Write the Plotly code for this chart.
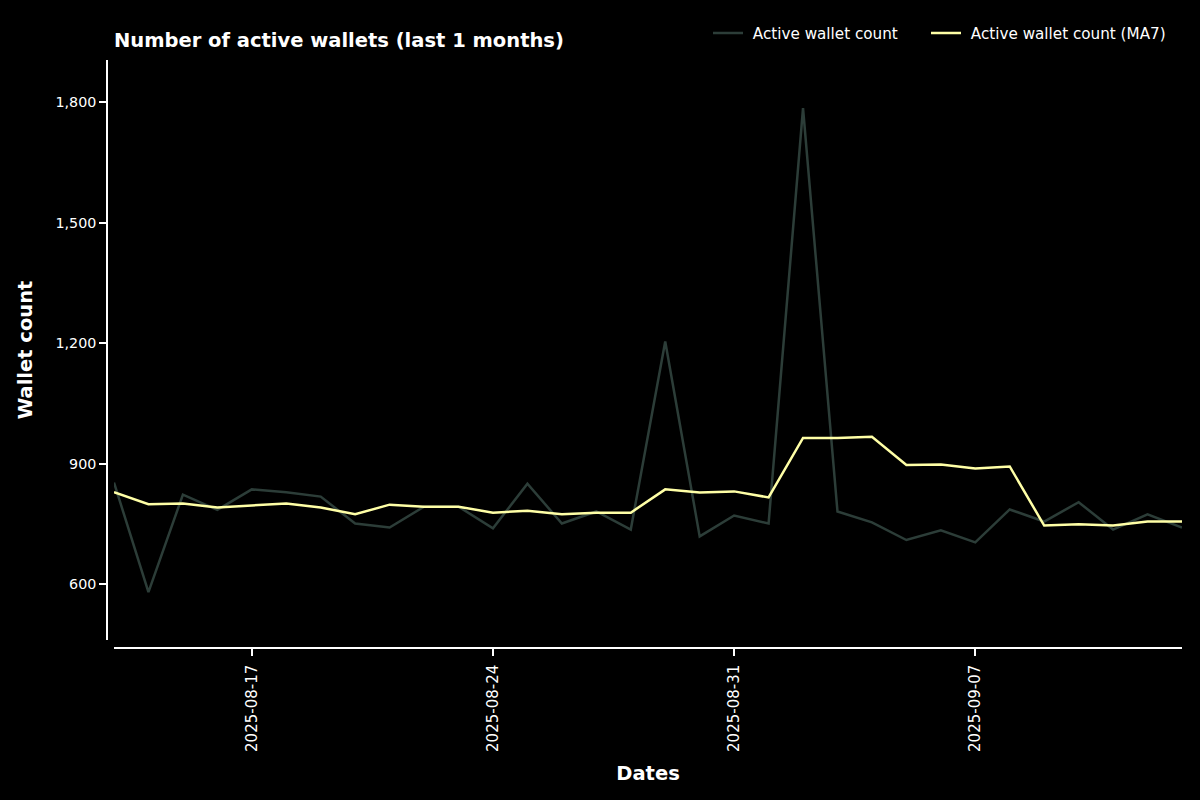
import plotly.graph_objects as go
import pandas as pd

dates = pd.date_range("2025-08-13", "2025-09-13", freq="D")
active_wallets = [853, 580, 823, 785, 836, 829, 818, 751, 741, 793, 793, 739,
                  850, 751, 781, 736, 1204, 719, 771, 751, 1785, 781, 754, 710,
                  734, 704, 786, 756, 804, 736, 774, 741]
active_wallets_ma7 = [829, 799, 801, 791, 796, 801, 791, 774, 798, 793, 793, 778,
                      783, 774, 778, 778, 836, 828, 831, 816, 964, 964, 967, 897,
                      898, 888, 893, 746, 749, 746, 756, 756]
x_ticks = ["2025-08-17", "2025-08-24", "2025-08-31", "2025-09-07"]

FONT = "DejaVu Sans"
fig = go.Figure()
fig.add_trace(go.Scatter(x=dates, y=active_wallets, mode="lines",
                         name="\u00a0Active wallet count", legendwidth=173,
                         line=dict(color="#2c3d38", width=2.5)))
fig.add_trace(go.Scatter(x=dates, y=active_wallets_ma7, mode="lines",
                         name="\u00a0Active wallet count (MA7)",
                         line=dict(color="#ffffa6", width=2.5)))

W, H = 1200, 800
ml, mr, mt, mb = 107, 18, 60, 152
pw = W - ml - mr
ph = H - mt - mb

fig.update_layout(
    width=W, height=H,
    paper_bgcolor="black", plot_bgcolor="black",
    font=dict(family=FONT, color="white", size=14),
    margin=dict(l=ml, r=mr, t=mt, b=mb),
    title=dict(text="<b>Number of active wallets (last 1 months)</b>",
               x=7 / pw, xref="paper", xanchor="left",
               y=1 - 40 / H, yref="container", yanchor="middle",
               font=dict(size=19.5, family=FONT, color="white")),
    showlegend=True,
    legend=dict(orientation="h", x=(708 - ml) / pw, xanchor="left",
                y=1 - (33 - mt) / ph,
                yanchor="middle", bgcolor="rgba(0,0,0,0)",
                font=dict(size=15.2, family=FONT, color="white"),
                itemwidth=30, traceorder="normal"),
    xaxis=dict(
        domain=[7 / pw, 1], anchor="free", position=0,
        range=[dates[0], dates[-1]],
        showgrid=False, zeroline=False,
        showline=True, linecolor="white", linewidth=1.5,
        ticks="outside", ticklen=7, tickwidth=1.5, tickcolor="white",
        tickvals=pd.to_datetime(x_ticks), ticktext=x_ticks,
        tickangle=-90, tickfont=dict(size=15, color="white"),
        ticklabelstandoff=3,
        title=dict(text="<b>Dates</b>", font=dict(size=19.5, color="white"),
                   standoff=14),
    ),
    yaxis=dict(
        domain=[8 / ph, 1], anchor="free", position=0,
        range=[461, 1905],
        showgrid=False, zeroline=False,
        showline=True, linecolor="white", linewidth=1.5,
        ticks="outside", ticklen=7, tickwidth=1.5, tickcolor="white",
        tickvals=[600, 900, 1200, 1500, 1800], tickformat=",d",
        tickfont=dict(size=14.3, color="white"),
        title=dict(text="<b>Wallet count</b>", font=dict(size=19.5, color="white"),
                   standoff=17),
    ),
)

fig.write_html(
    "out.html",
    config={"displayModeBar": False},
    post_script="document.body.style.margin='0';document.body.style.background='black';",
)
